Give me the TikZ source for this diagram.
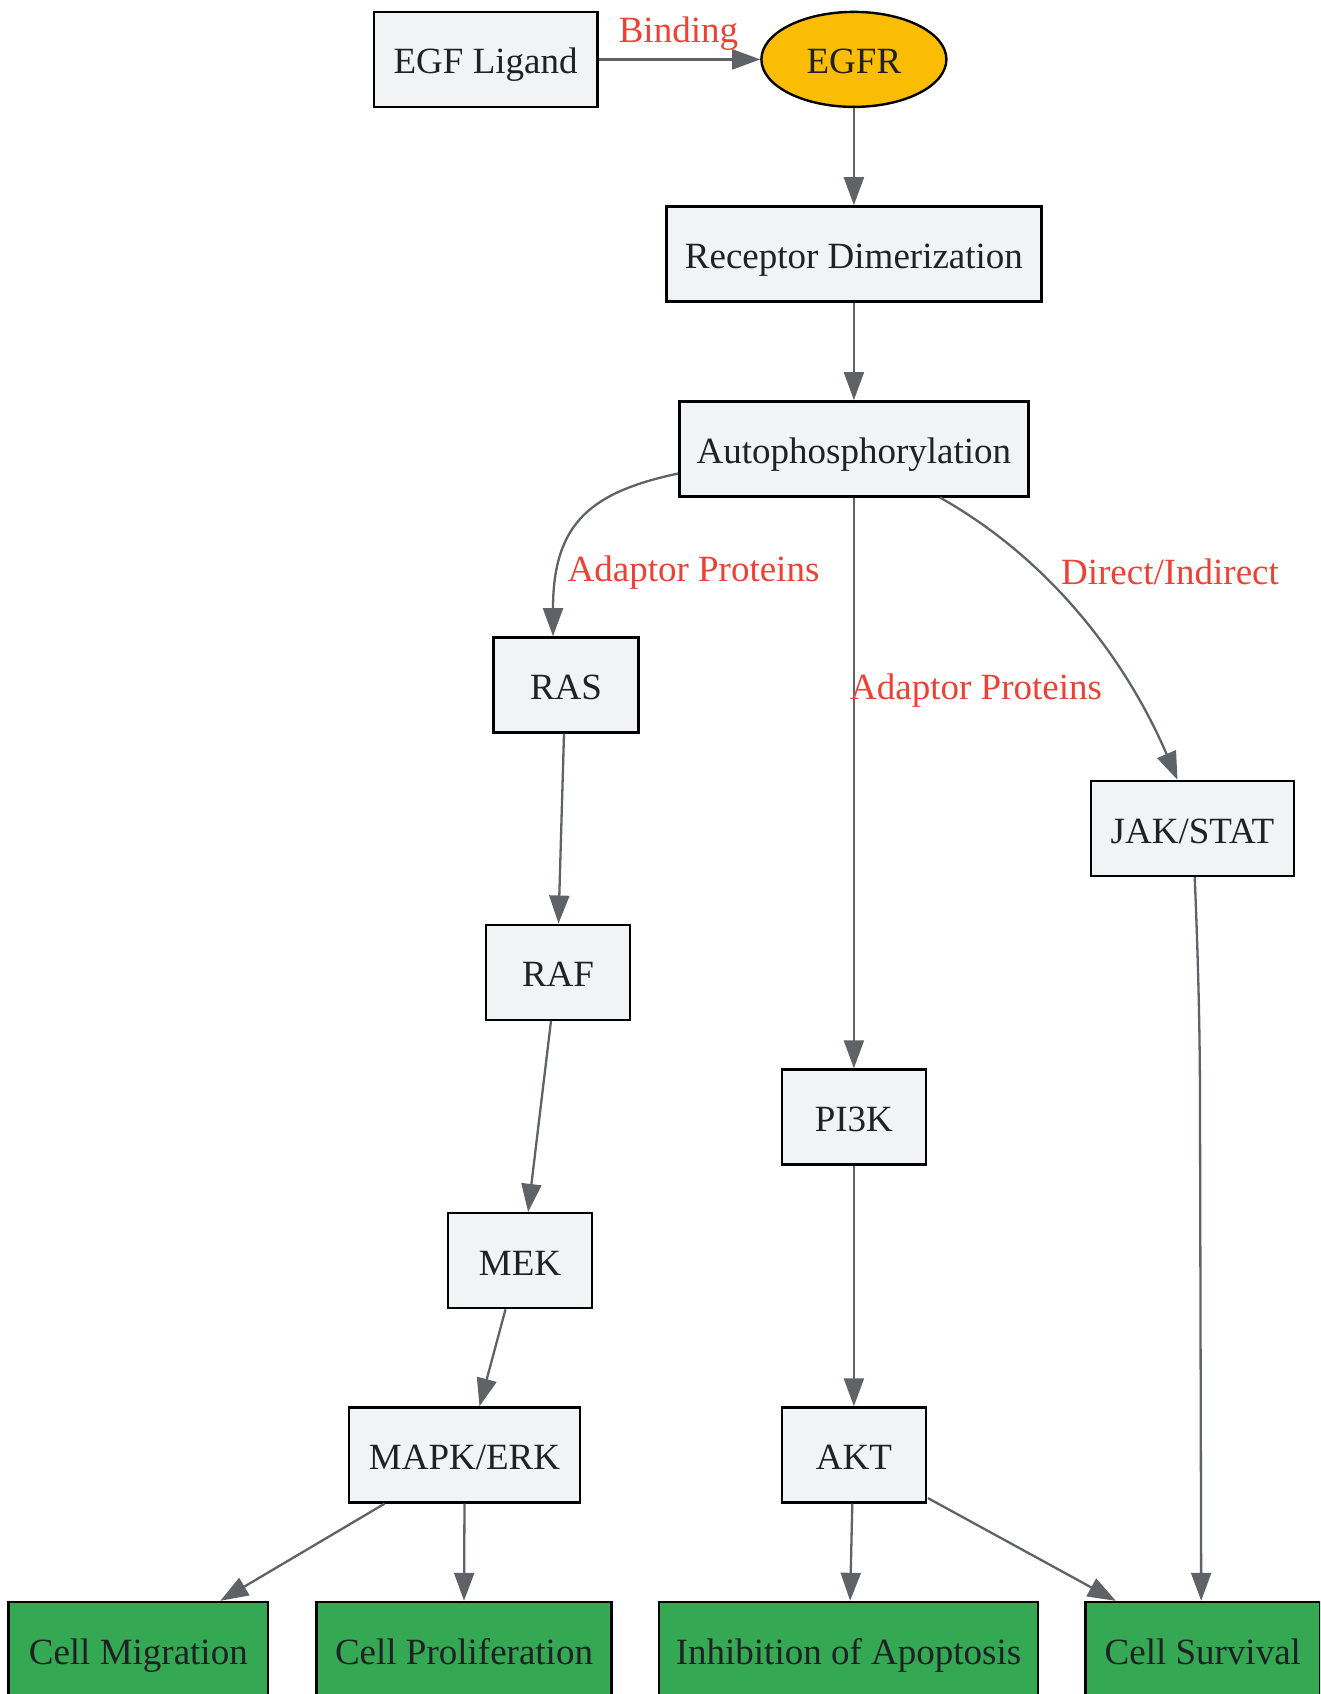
\documentclass[tikz,border=0pt]{standalone}
\usepackage{fontspec}
\setmainfont{Liberation Serif}
\usetikzlibrary{arrows.meta,calc,shapes.geometric}
\definecolor{boxfill}{HTML}{F1F3F4}
\definecolor{edgegray}{HTML}{5F6368}
\definecolor{lblred}{HTML}{EA4335}
\definecolor{egfryellow}{HTML}{FBBC04}
\definecolor{outgreen}{HTML}{34A853}
\definecolor{txt}{HTML}{202124}
\begin{document}
\begin{tikzpicture}[x=1pt,y=-1pt,
  every node/.style={font=\fontsize{37}{44}\selectfont},
  proc/.style={draw=black, line width=2.4pt, fill=boxfill, text=txt, minimum height=95pt,
    inner sep=0pt, text height=29pt, text depth=0pt},
  outbox/.style={proc, fill=outgreen},
  oval/.style={ellipse, draw=black, line width=2.4pt, fill=egfryellow, text=txt,
    minimum width=185pt, minimum height=95pt, inner sep=0pt, text height=29pt, text depth=0pt},
  conn/.style={draw=edgegray, line width=2.3pt, -{Triangle[length=28pt,width=20pt]}},
  lbl/.style={text=lblred, inner sep=0pt}
]
\clip (0,0) rectangle (1320,1694);
\fill[white] (0,0) rectangle (1320,1694);

% nodes
\node[proc, minimum width=223.6pt] (egf) at (485.6,59.4) {EGF Ligand};
\node[oval] (egfr) at (853.9,59.4) {EGFR};
\node[proc, minimum width=374.8pt] (rd) at (853.9,253.9) {Receptor Dimerization};
\node[proc, minimum width=349pt] (auto) at (853.9,448.8) {Autophosphorylation};
\node[proc, minimum width=144.7pt] (ras) at (566,684.9) {RAS};
\node[proc, minimum width=203pt] (jak) at (1192.5,828.5) {JAK/STAT};
\node[proc, minimum width=143.7pt] (raf) at (558,972.2) {RAF};
\node[proc, minimum width=143.7pt] (pi3k) at (853.9,1117) {PI3K};
\node[proc, minimum width=143.7pt] (mek) at (520.1,1260.6) {MEK};
\node[proc, minimum width=231.2pt] (mapk) at (464.5,1455) {MAPK/ERK};
\node[proc, minimum width=143.7pt] (akt) at (853.9,1455) {AKT};
\node[outbox, minimum width=259.3pt] (mig) at (138.3,1649.5) {Cell Migration};
\node[outbox, minimum width=295pt] (prol) at (464,1649.5) {Cell Proliferation};
\node[outbox, minimum width=379.2pt] (apop) at (848.5,1649.5) {Inhibition of Apoptosis};
\node[outbox, minimum width=234.4pt] (surv) at (1202.8,1649.5) {Cell Survival};

% edges
\draw[conn] (egf.east) -- (egfr.west);
\node[lbl] (lbind) at (678.4,34) {Binding};
\draw[conn] (egfr.south) -- (rd.north);
\draw[conn] (rd.south) -- (auto.north);

\coordinate (aRs) at ($(auto.south west)+(0,-24)$);
\coordinate (aRe) at ($(ras.north)+(-13,0)$);
\draw[conn] (aRs) .. controls (592,492) and (553,522) .. (aRe);
\node[lbl] (lras) at (693.5,573) {Adaptor Proteins};

\draw[conn] (auto.south) -- (pi3k.north);
\node[lbl, anchor=west] (lpi) at (850,691) {Adaptor Proteins};

\coordinate (aJs) at ($(auto.south)+(86,0)$);
\coordinate (aJe) at ($(jak.north)+(-15,0)$);
\draw[conn] (aJs) .. controls (1065,568) and (1135,680) .. (aJe);
\node[lbl] (ljak) at (1170,572) {Direct/Indirect};

\coordinate (jSs) at ($(jak.south)+(2.2,0)$);
\coordinate (jSe) at ($(surv.north)+(-1.6,0)$);
\draw[conn] (jSs) .. controls (1199,980) and (1200,1050) .. (1200,1110) -- (jSe);

\draw[conn] ($(ras.south)+(-2,0)$) -- ($(raf.north)+(0.5,0)$);
\draw[conn] ($(raf.south)+(-7,0)$) -- ($(mek.north)+(8,0)$);
\draw[conn] ($(mek.south)+(-14.6,0)$) -- ($(mapk.north)+(15,0)$);
\draw[conn] ($(mapk.south)+(-80,0)$) -- ($(mig.north)+(82,0)$);
\draw[conn] (mapk.south) -- (prol.north);
\draw[conn] (pi3k.south) -- (akt.north);
\draw[conn] ($(akt.south)+(-1.6,0)$) -- ($(apop.north)+(1.6,0)$);
\draw[conn] ($(akt.south east)+(1,-5.6)$) -- ($(surv.north)+(-87,0)$);
\end{tikzpicture}
\end{document}
